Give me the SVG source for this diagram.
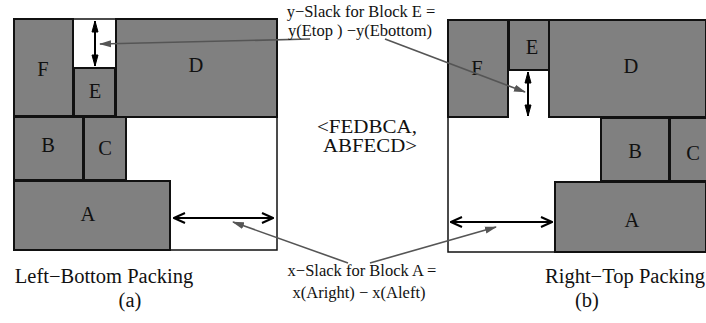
<svg xmlns="http://www.w3.org/2000/svg" width="706" height="323" viewBox="0 0 706 323">
<style>
.blk{fill:#808080;stroke:#111;stroke-width:2}
.box{fill:#fff;stroke:#111;stroke-width:1.5}
.lbl{font-family:"Liberation Serif","Times New Roman",serif;fill:#111;text-anchor:middle}
.big{font-size:20.5px}
.mid{font-size:19px}
.sm{font-size:16.5px}
.dbl{stroke:#000;stroke-width:2;fill:none}
.ptr{stroke:#555;stroke-width:1.6;fill:none}
</style>
<defs>
<marker id="v" viewBox="-12 -6 13 12" refX="0" refY="0" markerWidth="13" markerHeight="12" markerUnits="userSpaceOnUse" orient="auto-start-reverse">
<path d="M-11,-5 L0,0 L-11,5" fill="none" stroke="#000" stroke-width="2"/>
</marker>
<marker id="vn" viewBox="-12 -4 13 8" refX="0" refY="0" markerWidth="13" markerHeight="8" markerUnits="userSpaceOnUse" orient="auto-start-reverse">
<path d="M-11,-3 L0,0 L-11,3 Z" fill="#000" stroke="#000" stroke-width="1"/>
</marker>
<marker id="g" viewBox="0 -4 12 8" refX="11" refY="0" markerWidth="12" markerHeight="8" markerUnits="userSpaceOnUse" orient="auto">
<path d="M0,-3.5 L12,0 L0,3.5 Z" fill="#555"/>
</marker>
</defs>

<g id="panel-a">
<rect class="box" x="14" y="19" width="263" height="231"/>
<g id="a-F"><rect class="blk" x="14" y="19" width="59" height="97"/><text class="lbl big" x="43" y="76">F</text></g>
<g id="a-E"><rect class="blk" x="74" y="68" width="41" height="48"/><text class="lbl big" x="95" y="98">E</text></g>
<g id="a-D"><rect class="blk" x="116" y="19" width="161" height="98"/><text class="lbl big" x="196" y="72">D</text></g>
<g id="a-B"><rect class="blk" x="14" y="117" width="69" height="63"/><text class="lbl big" x="48" y="152">B</text></g>
<g id="a-C"><rect class="blk" x="84" y="117" width="42" height="63"/><text class="lbl big" x="105" y="155">C</text></g>
<g id="a-A"><rect class="blk" x="14" y="181" width="156" height="69"/><text class="lbl big" x="88" y="221">A</text></g>
</g>

<g id="panel-b">
<rect class="box" x="448" y="20" width="257" height="232"/>
<g id="b-F"><rect class="blk" x="448" y="20" width="60" height="97"/><text class="lbl big" x="477" y="75">F</text></g>
<g id="b-E"><rect class="blk" x="509" y="20" width="40" height="50"/><text class="lbl big" x="532" y="54">E</text></g>
<g id="b-D"><rect class="blk" x="549" y="20" width="157" height="97"/><text class="lbl big" x="631" y="73">D</text></g>
<g id="b-B"><rect class="blk" x="601" y="118" width="68" height="63"/><text class="lbl big" x="635" y="158">B</text></g>
<g id="b-C"><rect class="blk" x="670" y="118" width="37" height="63"/><text class="lbl big" x="693" y="160">C</text></g>
<g id="b-A"><rect class="blk" x="555" y="182" width="151" height="70"/><text class="lbl big" x="632" y="227">A</text></g>
</g>

<g id="connectors">
<line class="dbl" x1="95" y1="21" x2="95" y2="66" marker-start="url(#vn)" marker-end="url(#vn)"/>
<line class="dbl" x1="528" y1="72" x2="528" y2="116" marker-start="url(#vn)" marker-end="url(#vn)"/>
<line class="dbl" x1="174" y1="218" x2="273" y2="218" marker-start="url(#v)" marker-end="url(#v)"/>
<line class="dbl" x1="451" y1="222" x2="552" y2="222" marker-start="url(#v)" marker-end="url(#v)"/>
<line class="ptr" x1="310" y1="39" x2="100" y2="44" marker-end="url(#g)"/>
<line class="ptr" x1="385" y1="39" x2="525" y2="92" marker-end="url(#g)"/>
<line class="ptr" x1="348" y1="263" x2="233" y2="222" marker-end="url(#g)"/>
<line class="ptr" x1="370" y1="263" x2="496" y2="227" marker-end="url(#g)"/>
</g>

<g id="labels">
<text class="lbl sm" x="361" y="17">y−Slack for Block E =</text>
<text class="lbl sm" x="360" y="36">y(Etop ) −y(Ebottom)</text>
<text class="lbl mid" x="367" y="133" textLength="100" lengthAdjust="spacingAndGlyphs">&lt;FEDBCA,</text>
<text class="lbl mid" x="370" y="152" textLength="94" lengthAdjust="spacingAndGlyphs">ABFECD&gt;</text>
<text class="lbl sm" x="362" y="276">x−Slack for Block A =</text>
<text class="lbl sm" x="359" y="298">x(Aright) − x(Aleft)</text>
<text class="lbl big" x="104" y="283">Left−Bottom Packing</text>
<text class="lbl big" x="130" y="307">(a)</text>
<text class="lbl big" x="625" y="283">Right−Top Packing</text>
<text class="lbl big" x="587" y="307">(b)</text>
</g>
</svg>
